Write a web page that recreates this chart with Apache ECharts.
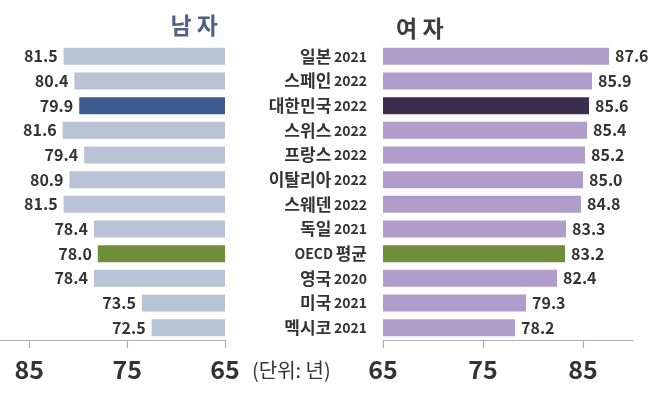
<!DOCTYPE html>
<html>
<head>
<meta charset="utf-8">
<script src="https://cdn.jsdelivr.net/npm/echarts@6/dist/echarts.min.js"></script>
<style>
  html, body { margin: 0; padding: 0; background: #fff; }
  #main { width: 663px; height: 396px; }
</style>
</head>
<body>
<div id="main"></div>
<script>
  // 국가별 기대수명 (단위: 년)
  const countries = ['일본 2021', '스페인 2022', '대한민국 2022', '스위스 2022', '프랑스 2022', '이탈리아 2022',
    '스웨덴 2022', '독일 2021', 'OECD 평균', '영국 2020', '미국 2021', '멕시코 2021'];
  const maleValues = [81.5, 80.4, 79.9, 81.6, 79.4, 80.9, 81.5, 78.4, 78.0, 78.4, 73.5, 72.5];
  const femaleValues = [87.6, 85.9, 85.6, 85.4, 85.2, 85.0, 84.8, 83.3, 83.2, 82.4, 79.3, 78.2];
  const tickValues = [65, 75, 85];

  const FONT = '"Noto Sans CJK KR", "Noto Sans", sans-serif';

  let chartDom = document.getElementById('main');
  let myChart = echarts.init(chartDom);

  function barColor(name, base, korea) {
    if (name === '대한민국 2022') return korea;
    if (name === 'OECD 평균') return '#6e8e3a';
    return base;
  }

  function valueAxis(idx, inverse, max) {
    return {
      type: 'value',
      gridIndex: idx,
      inverse: inverse,
      min: 65,
      max: max,
      splitLine: { show: false },
      axisLine: { show: true, lineStyle: { color: '#b0b0b0', width: 1.2 } },
      axisTick: { show: true, customValues: tickValues, length: 8, lineStyle: { color: '#b0b0b0', width: 1.2 } },
      axisLabel: {
        customValues: tickValues,
        margin: 17,
        fontSize: 25,
        fontWeight: 'bold',
        color: '#333',
        fontFamily: FONT
      }
    };
  }

  let option = {
    animation: false,
    textStyle: { fontFamily: FONT },
    title: [{
      text: '남 자',
      right: 440,
      top: 9,
      textStyle: { fontSize: 23, fontWeight: 'bold', color: '#4f6184', fontFamily: FONT }
    }, {
      text: '여 자',
      left: 391,
      top: 12,
      textStyle: { fontSize: 23, fontWeight: 'bold', color: '#3d3d3d', fontFamily: FONT }
    }],
    graphic: [{
      type: 'text',
      left: 252,
      top: 360,
      style: { text: '(단위: 년)', fill: '#333', font: '20px ' + FONT }
    }],
    grid: [
      { left: 0, right: 438, top: 44, bottom: 56 },
      { left: 383, right: 30, top: 44, bottom: 56 }
    ],
    xAxis: [valueAxis(0, true, 88), valueAxis(1, false, 90)],
    yAxis: [{
      type: 'category',
      gridIndex: 0,
      inverse: true,
      data: countries,
      axisLine: { show: false },
      axisTick: { show: false },
      axisLabel: { show: false }
    }, {
      type: 'category',
      gridIndex: 1,
      inverse: true,
      data: countries,
      axisLine: { show: false },
      axisTick: { show: false },
      axisLabel: {
        margin: 16,
        formatter: function (v) {
          return v.split(' ').map(function (t) {
            return /^[0-9A-Za-z]+$/.test(t) ? '{s|' + t + '}' : '{k|' + t + '}';
          }).join(' ');
        },
        rich: {
          k: { fontSize: 17, fontWeight: 'bold', color: '#333', fontFamily: FONT },
          s: { fontSize: 14, fontWeight: 'bold', color: '#333', fontFamily: FONT }
        }
      }
    }],
    series: [{
      name: '남자',
      type: 'bar',
      xAxisIndex: 0,
      yAxisIndex: 0,
      barWidth: 17,
      data: maleValues,
      itemStyle: {
        color: function (p) { return barColor(p.name, '#b9c3d6', '#3e5a8e'); }
      },
      label: {
        show: true,
        position: 'outside',
        distance: 6,
        fontSize: 16,
        fontWeight: 'bold',
        color: '#333',
        fontFamily: FONT,
        formatter: function (p) { return p.value.toFixed(1); }
      }
    }, {
      name: '여자',
      type: 'bar',
      xAxisIndex: 1,
      yAxisIndex: 1,
      barWidth: 17,
      data: femaleValues,
      itemStyle: {
        color: function (p) { return barColor(p.name, '#b19dcb', '#3b2f4f'); }
      },
      label: {
        show: true,
        position: 'outside',
        distance: 6,
        fontSize: 16,
        fontWeight: 'bold',
        color: '#333',
        fontFamily: FONT,
        formatter: function (p) { return p.value.toFixed(1); }
      }
    }]
  };

  myChart.setOption(option);
</script>
</body>
</html>
